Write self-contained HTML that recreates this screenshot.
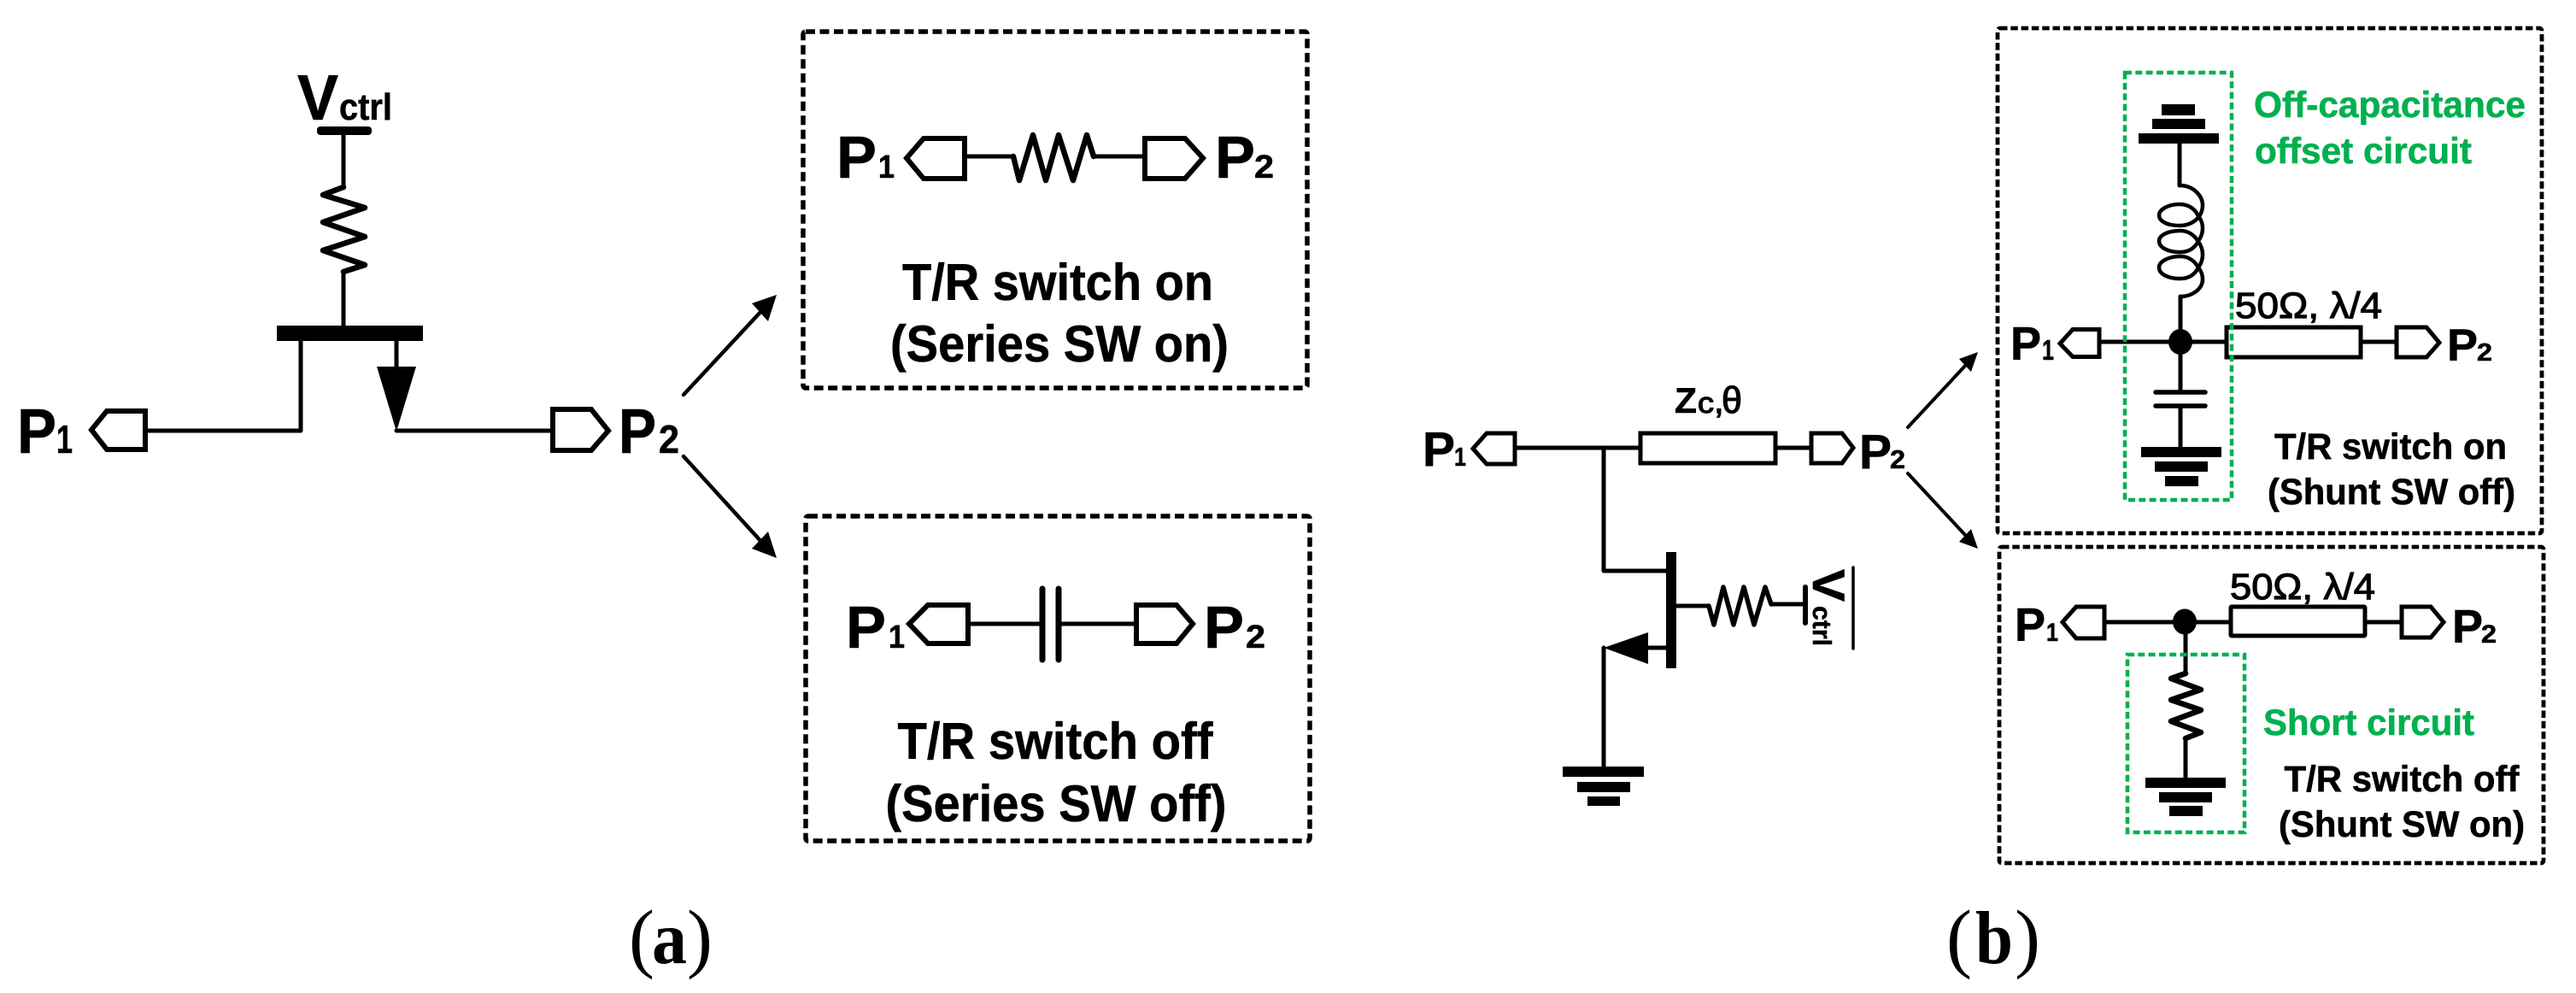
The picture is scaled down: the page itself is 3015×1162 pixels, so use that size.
<!DOCTYPE html>
<html><head><meta charset="utf-8"><style>
html,body{margin:0;padding:0;background:#fff}
svg{display:block}
text{font-family:"Liberation Sans",sans-serif;font-weight:bold;fill:#000;stroke:#000;stroke-width:.6}
.w{fill:none;stroke:#000;stroke-width:5;stroke-linejoin:round;stroke-linecap:round}
.z{fill:none;stroke:#000;stroke-width:6.5;stroke-linejoin:round;stroke-linecap:round}
.p{fill:#fff;stroke:#000;stroke-width:5;stroke-linejoin:miter}
.pa{fill:#fff;stroke:#000;stroke-width:6;stroke-linejoin:miter}
.da{fill:none;stroke:#000;stroke-width:5.5;stroke-dasharray:11 5.5}
.db{fill:none;stroke:#000;stroke-width:4.8;stroke-dasharray:8.5 3.8}
.g{fill:none;stroke:#00B050;stroke-width:4.5;stroke-dasharray:8 4.3}
text.gt{fill:#00B050;stroke:#00B050}
text.s{font-family:"Liberation Serif",serif;stroke:none}
text.r{font-weight:normal;stroke-width:1.2}
</style></head><body>
<svg width="3015" height="1162" viewBox="0 0 3015 1162" xmlns="http://www.w3.org/2000/svg">
<rect width="3015" height="1162" fill="#fff"/>

<!-- (a) transistor -->
<text x="348" y="140" font-size="75" textLength="48" lengthAdjust="spacingAndGlyphs">V</text>
<text x="397" y="140" font-size="44" textLength="62" lengthAdjust="spacingAndGlyphs">ctrl</text>
<rect x="371" y="148" width="64" height="10" rx="4"/>
<polyline class="w" points="402,158 402,217"/>
<polyline class="z" points="402,219 378,228 427,243 378,260 427,277 378,293 427,310 402,318"/>
<polyline class="w" points="402,318 402,382"/>
<rect x="324" y="381" width="171" height="18"/>
<polyline class="w" points="173,504 352,504 352,399"/>
<polyline class="w" points="464,399 464,429"/>
<polygon points="441,429 487,429 464,505"/>
<polyline class="w" points="464,504 646,504"/>
<polygon class="pa" points="170,481 125,481 107,503 125,526 170,526"/>
<polygon class="pa" points="647,479 692,479 712,504 692,527 647,527"/>
<text x="20" y="530" font-size="74" textLength="46" lengthAdjust="spacingAndGlyphs">P</text>
<text x="66" y="530" font-size="46" textLength="19" lengthAdjust="spacingAndGlyphs">1</text>
<text x="724" y="530" font-size="74" textLength="44" lengthAdjust="spacingAndGlyphs">P</text>
<text x="771" y="530" font-size="46" textLength="24" lengthAdjust="spacingAndGlyphs">2</text>
<line class="w" x1="800" y1="462" x2="893" y2="362" style="stroke-width:4.5"/>
<polygon points="909,345 880,355 899,376"/>
<line class="w" x1="800" y1="534" x2="893" y2="636" style="stroke-width:4.5"/>
<polygon points="909,653 880,642 899,622"/>

<!-- box 1 -->
<rect class="da" x="940" y="37" width="590" height="417" rx="3"/>
<text x="979" y="208" font-size="70" textLength="47" lengthAdjust="spacingAndGlyphs">P</text>
<text x="1028" y="208" font-size="38" textLength="19" lengthAdjust="spacingAndGlyphs">1</text>
<polyline class="w" points="1129,183 1186,183"/>
<polyline class="z" points="1186,183 1193,211 1209,158 1224,211 1239,158 1256,211 1272,158 1280,183"/>
<polyline class="w" points="1280,183 1339,183"/>
<polygon class="pa" points="1129,162 1081,162 1061,185 1081,209 1129,209"/>
<polygon class="pa" points="1340,162 1387,162 1408,185 1387,209 1340,209"/>
<text x="1422" y="208" font-size="70" textLength="47" lengthAdjust="spacingAndGlyphs">P</text>
<text x="1468" y="208" font-size="38" textLength="23" lengthAdjust="spacingAndGlyphs">2</text>
<text x="1238" y="351" font-size="60" text-anchor="middle" textLength="364" lengthAdjust="spacingAndGlyphs">T/R switch on</text>
<text x="1240" y="423" font-size="60" text-anchor="middle" textLength="396" lengthAdjust="spacingAndGlyphs">(Series SW on)</text>

<!-- box 2 -->
<rect class="da" x="943" y="604" width="590" height="380" rx="3"/>
<text x="990" y="758" font-size="70" textLength="47" lengthAdjust="spacingAndGlyphs">P</text>
<text x="1040" y="758" font-size="38" textLength="19" lengthAdjust="spacingAndGlyphs">1</text>
<polyline class="w" points="1133,730 1220,730"/>
<polyline class="w" points="1239,730 1329,730"/>
<line x1="1220" y1="689" x2="1220" y2="772" class="w" style="stroke-width:7"/>
<line x1="1239" y1="689" x2="1239" y2="772" class="w" style="stroke-width:7"/>
<polygon class="pa" points="1133,708 1086,708 1064,730 1086,753 1133,753"/>
<polygon class="pa" points="1330,708 1377,708 1396,730 1377,753 1330,753"/>
<text x="1409" y="758" font-size="70" textLength="47" lengthAdjust="spacingAndGlyphs">P</text>
<text x="1458" y="758" font-size="38" textLength="23" lengthAdjust="spacingAndGlyphs">2</text>
<text x="1235" y="888" font-size="60" text-anchor="middle" textLength="369" lengthAdjust="spacingAndGlyphs">T/R switch off</text>
<text x="1236" y="961" font-size="60" text-anchor="middle" textLength="399" lengthAdjust="spacingAndGlyphs">(Series SW off)</text>

<!-- (a) (b) captions -->
<text class="s" x="736" y="1127" font-size="90" style="font-weight:normal">(</text>
<text class="s" x="763" y="1127" font-size="88" textLength="41" lengthAdjust="spacingAndGlyphs">a</text>
<text class="s" x="804" y="1127" font-size="90" style="font-weight:normal">)</text>
<text class="s" x="2278" y="1127" font-size="90" style="font-weight:normal">(</text>
<text class="s" x="2312" y="1127" font-size="88" textLength="44" lengthAdjust="spacingAndGlyphs">b</text>
<text class="s" x="2358" y="1127" font-size="90" style="font-weight:normal">)</text>

<!-- (b) transistor -->
<text x="1665" y="545" font-size="57" textLength="38" lengthAdjust="spacingAndGlyphs">P</text>
<text x="1702" y="545" font-size="31" textLength="14" lengthAdjust="spacingAndGlyphs">1</text>
<polyline class="w" points="1773,524 1920,524"/>
<rect class="p" x="1920" y="507" width="158" height="35"/>
<polyline class="w" points="2078,524 2119,524"/>
<polygon class="p" points="1773,507 1740,507 1724,525 1740,543 1773,543"/>
<polygon class="p" points="2120,507 2156,507 2169,524 2156,542 2120,542"/>
<text x="2176" y="548" font-size="57" textLength="38" lengthAdjust="spacingAndGlyphs">P</text>
<text x="2212" y="548" font-size="31" textLength="18" lengthAdjust="spacingAndGlyphs">2</text>
<text x="1960" y="483" font-size="42" textLength="26" lengthAdjust="spacingAndGlyphs">Z</text>
<text class="r" x="1987" y="483" font-size="34" textLength="19" lengthAdjust="spacingAndGlyphs">c</text>
<text class="r" x="2006" y="483" font-size="42">,</text>
<text class="r" x="2015" y="483" font-size="44" textLength="24" lengthAdjust="spacingAndGlyphs">θ</text>
<polyline class="w" points="1877,524 1877,668 1950,668"/>
<rect x="1950" y="646" width="12" height="136"/>
<polyline class="w" points="1929,758 1950,758"/>
<polygon points="1877,758 1929,740 1929,777"/>
<polyline class="w" points="1877,758 1877,897"/>
<rect x="1829" y="897" width="95" height="12"/>
<rect x="1846" y="915" width="62" height="12"/>
<rect x="1858" y="932" width="38" height="11"/>
<polyline class="w" points="1962,709 2000,709"/>
<polyline class="z" style="stroke-width:5.5" points="2000,709 2006,731 2017,687 2029,731 2041,687 2053,731 2066,687 2073,707"/>
<polyline class="w" points="2073,707 2113,707"/>
<line class="w" x1="2113" y1="687" x2="2113" y2="729" style="stroke-width:6"/>
<text transform="translate(2122,666) rotate(90)" font-size="53" textLength="38" lengthAdjust="spacingAndGlyphs">V</text>
<text transform="translate(2122,709) rotate(90)" font-size="31" textLength="47" lengthAdjust="spacingAndGlyphs">ctrl</text>
<line class="w" x1="2169" y1="664" x2="2169" y2="759" style="stroke-width:3.5"/>
<line class="w" x1="2233" y1="500" x2="2301" y2="427" style="stroke-width:4"/>
<polygon points="2315,412 2293,420 2307,435"/>
<line class="w" x1="2233" y1="554" x2="2301" y2="627" style="stroke-width:4"/>
<polygon points="2315,642 2293,634 2307,619"/>

<!-- box 3 -->
<rect class="db" x="2338" y="33" width="637" height="591" rx="3"/>
<rect x="2530" y="122" width="39" height="13"/>
<rect x="2519" y="139" width="62" height="12"/>
<rect x="2503" y="156" width="94" height="12"/>
<line class="w" x1="2551" y1="168" x2="2551" y2="217"/>
<path class="w" style="stroke-width:4.5" d="M2551,217 C2568,217 2578,230 2578,240 C2578,255 2565,264 2551,264 C2535,264 2527,258 2527,252 C2527,245 2538,239 2551,239 C2563,239 2570,246 2573,253 C2577,258 2578,262 2578,267 C2578,273 2576,278 2573,282 C2569,290 2562,295 2552,295 C2536,295 2527,289 2527,282 C2527,275 2538,270 2552,270 C2562,270 2569,276 2573,283 C2577,288 2578,293 2578,298 C2578,304 2576,309 2573,313 C2569,321 2562,326 2552,326 C2536,326 2527,320 2527,313 C2527,306 2538,300 2552,300 C2562,300 2569,306 2573,313 C2577,318 2578,322 2578,327 C2578,338 2566,347 2552,347"/>
<line class="w" x1="2552" y1="347" x2="2552" y2="400"/>
<polyline class="w" points="2460,400 2606,400"/>
<ellipse cx="2552" cy="400" rx="14" ry="15"/>
<polyline class="w" points="2552,400 2552,459"/>
<line class="w" x1="2523" y1="459" x2="2581" y2="459" style="stroke-width:5.5"/>
<line class="w" x1="2523" y1="475" x2="2581" y2="475" style="stroke-width:5.5"/>
<polyline class="w" points="2552,475 2552,523"/>
<rect x="2506" y="523" width="94" height="12"/>
<rect x="2522" y="540" width="62" height="12"/>
<rect x="2534" y="557" width="39" height="12"/>
<polygon class="p" points="2457,385.5 2426,385.5 2411,402 2426,417.5 2457,417.5"/>
<rect class="p" x="2606" y="383" width="157" height="35"/>
<polyline class="w" points="2763,400 2804,400"/>
<polygon class="p" points="2805,383 2840,383 2855,401 2840,418 2805,418"/>
<text x="2353" y="421" font-size="55" textLength="36" lengthAdjust="spacingAndGlyphs">P</text>
<text x="2390" y="421" font-size="33" textLength="14" lengthAdjust="spacingAndGlyphs">1</text>
<text x="2864" y="422" font-size="53" textLength="36" lengthAdjust="spacingAndGlyphs">P</text>
<text x="2899" y="422" font-size="29" textLength="18" lengthAdjust="spacingAndGlyphs">2</text>
<text class="r" x="2616" y="372" font-size="43" textLength="172" lengthAdjust="spacingAndGlyphs">50Ω, λ/4</text>
<rect class="g" x="2487" y="85" width="125" height="500"/>
<text class="gt" x="2638" y="137" font-size="43" textLength="318" lengthAdjust="spacingAndGlyphs">Off-capacitance</text>
<text class="gt" x="2639" y="191" font-size="43" textLength="254" lengthAdjust="spacingAndGlyphs">offset circuit</text>
<text x="2798" y="537" font-size="43" text-anchor="middle" textLength="272" lengthAdjust="spacingAndGlyphs">T/R switch on</text>
<text x="2799" y="590" font-size="43" text-anchor="middle" textLength="290" lengthAdjust="spacingAndGlyphs">(Shunt SW off)</text>

<!-- box 4 -->
<rect class="db" x="2340" y="640" width="637" height="370" rx="3"/>
<polyline class="w" points="2463,728 2611,728"/>
<ellipse cx="2557" cy="727.5" rx="14" ry="15"/>
<polyline class="w" points="2558,728 2558,787"/>
<polyline class="z" points="2558,788 2541,794 2576,807 2541,819 2576,831 2541,844 2576,857 2558,864"/>
<polyline class="w" points="2558,864 2558,910"/>
<polygon class="p" points="2463,710 2430,710 2414,728 2430,747 2463,747"/>
<rect class="p" x="2611" y="710" width="157" height="34" rx="1"/>
<polyline class="w" points="2768,728 2809,728"/>
<polygon class="p" points="2811,710 2845,710 2860,728 2845,746 2811,746"/>
<text x="2358" y="750" font-size="55" textLength="36" lengthAdjust="spacingAndGlyphs">P</text>
<text x="2395" y="750" font-size="30" textLength="14" lengthAdjust="spacingAndGlyphs">1</text>
<text x="2870" y="752" font-size="55" textLength="36" lengthAdjust="spacingAndGlyphs">P</text>
<text x="2904" y="752" font-size="30" textLength="18" lengthAdjust="spacingAndGlyphs">2</text>
<text class="r" x="2610" y="701" font-size="43" textLength="170" lengthAdjust="spacingAndGlyphs">50Ω, λ/4</text>
<rect x="2511" y="910" width="94" height="12"/>
<rect x="2527" y="927" width="62" height="12"/>
<rect x="2539" y="943" width="39" height="12"/>
<rect class="g" x="2490" y="766" width="137" height="208"/>
<text class="gt" x="2649" y="860" font-size="43" textLength="247" lengthAdjust="spacingAndGlyphs">Short circuit</text>
<text x="2811" y="926" font-size="43" text-anchor="middle" textLength="275" lengthAdjust="spacingAndGlyphs">T/R switch off</text>
<text x="2811" y="979" font-size="43" text-anchor="middle" textLength="288" lengthAdjust="spacingAndGlyphs">(Shunt SW on)</text>
</svg>
</body></html>
